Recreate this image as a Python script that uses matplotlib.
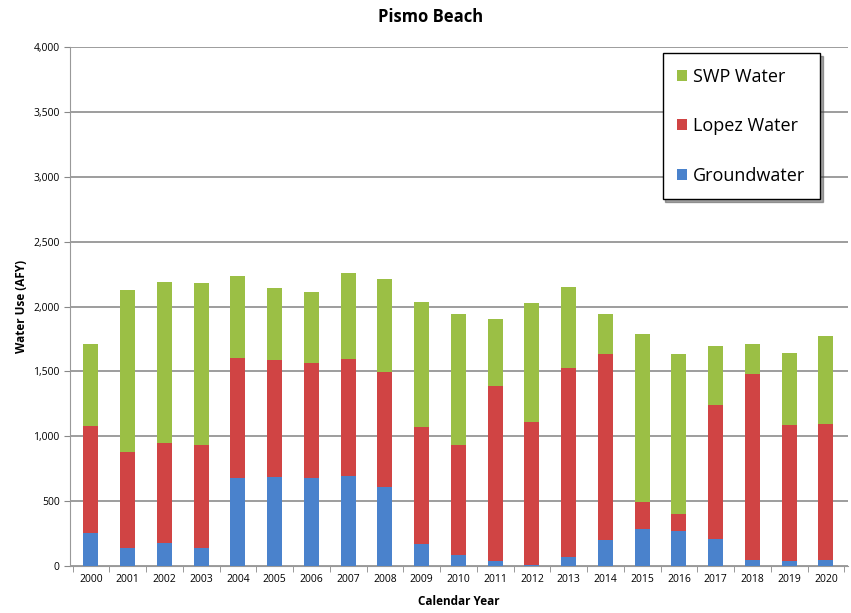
import numpy as np
import matplotlib
matplotlib.use("Agg")
from matplotlib import pyplot as plt
from matplotlib.ticker import FuncFormatter

years = [str(y) for y in range(2000, 2021)]

# water use (AFY) by source
groundwater = [252, 136, 180, 136, 676, 683, 676, 693, 606, 170, 85,
               41, 10, 72, 200, 285, 270, 205, 46, 38, 46]
lopez_water = [827, 745, 770, 796, 924, 904, 886, 899, 891, 904, 847,
               1346, 1102, 1451, 1434, 211, 130, 1036, 1434, 1049, 1048]
swp_water = [629, 1246, 1241, 1246, 635, 553, 552, 668, 712, 963, 1010,
             514, 912, 625, 308, 1292, 1234, 454, 231, 552, 678]

plt.rcParams['font.family'] = ['Open Sans', 'DejaVu Sans']

fig = plt.figure(figsize=(8.51, 6.13), dpi=100)
ax = fig.add_axes([70/851, 1-566/613, 778/851, 519/613])

x = np.arange(len(years))
w = 0.41
g = np.array(groundwater)
l = np.array(lopez_water)
s = np.array(swp_water)

b1 = ax.bar(x, g, w, color='#4a82cc', label='Groundwater', zorder=3)
b2 = ax.bar(x, l, w, bottom=g, color='#d04444', label='Lopez Water', zorder=3)
b3 = ax.bar(x, s, w, bottom=g+l, color='#9bbf45', label='SWP Water', zorder=3)

ax.set_xlim(-0.57, 20.6)
ax.set_ylim(0, 4000)
ax.set_yticks(np.arange(0, 4001, 500))
ax.yaxis.set_major_formatter(FuncFormatter(lambda v, p: f'{int(v):,}'))
ax.set_xticks(x)
ax.set_xticklabels(years)
ax.set_xticks(np.arange(-0.5, 21, 1), minor=True)
ax.tick_params(axis='x', which='major', length=0, labelsize=7.5, pad=6)
ax.tick_params(axis='x', which='minor', length=4, color='#888888')
ax.tick_params(axis='y', length=4, color='#888888', labelsize=7.5)

ax.grid(axis='y', color='#8c8c8c', linewidth=1.2, zorder=0)
for sp in ['top', 'right']:
    ax.spines[sp].set_visible(False)
ax.spines['left'].set_color('#999999')
ax.spines['bottom'].set_color('#999999')

fig.suptitle('Pismo Beach', x=431/851, y=1-17/613, va='center',
             fontsize=12, fontweight='bold')
ax.set_ylabel('Water Use (AFY)', fontsize=8.5, fontweight='bold', labelpad=4)
ax.set_xlabel('Calendar Year', fontsize=8.5, fontweight='bold', labelpad=7)

leg = ax.legend(handles=[b3, b2, b1], loc='upper right',
                bbox_to_anchor=(0.964, 0.988), fontsize=13, frameon=True,
                fancybox=False, shadow=True, edgecolor='black',
                labelspacing=1.75, handlelength=0.55, handleheight=0.55,
                handletextpad=0.35, borderpad=0.8, borderaxespad=0)
leg.get_frame().set_linewidth(1.0)

fig.savefig('out.png', dpi=100)
